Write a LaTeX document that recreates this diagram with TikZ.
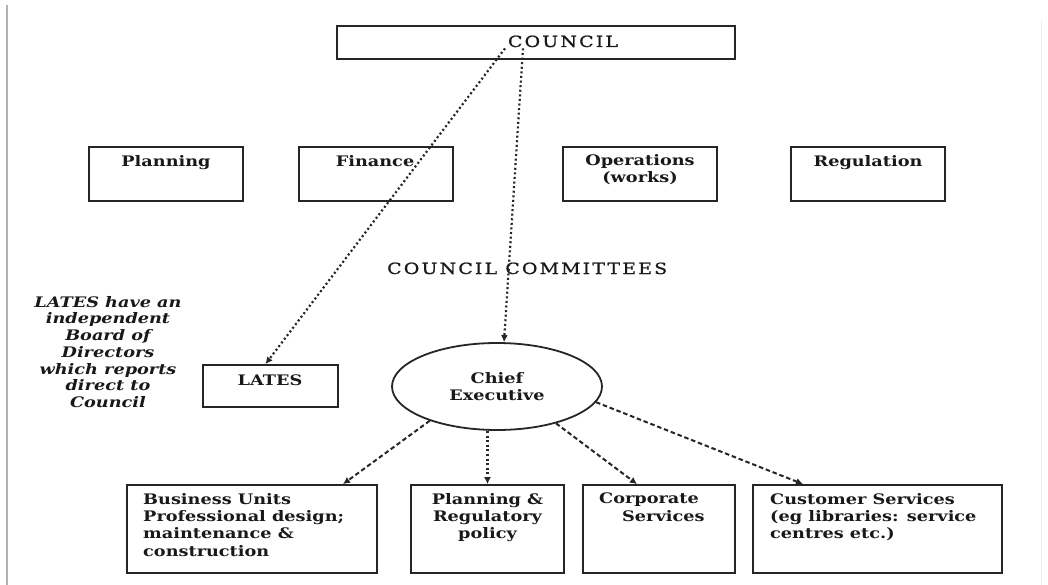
\documentclass[tikz,border=0pt]{standalone}
\usepackage{fontspec}
\usetikzlibrary{shapes.geometric,arrows.meta}
\setmainfont{DejaVu Serif}
\newfontfamily\bkfont[FakeStretch=1.22]{DejaVu Serif}
\newfontfamily\capfont[FakeStretch=1.22,LetterSpace=14,FakeBold=0.8]{DejaVu Serif}
\begin{document}
\begin{tikzpicture}[x=1pt,y=-1pt,
  box/.style={draw=black!85, line width=1.8pt, rectangle, inner sep=0pt},
  lbl/.style={font=\bkfont\bfseries\fontsize{14.5}{17.3}\selectfont, inner sep=0pt, text=black!90},
  note/.style={font=\bkfont\bfseries\itshape\fontsize{14.5}{16.7}\selectfont, inner sep=0pt, text=black!90, align=center},
  captxt/.style={font=\capfont\fontsize{15.5}{17}\selectfont, inner sep=1pt, text=black!90},
  dots/.style={draw=black!85, line width=2.2pt, dash pattern=on 2pt off 2.6pt, -{Latex[length=7pt,width=7pt]}},
  dsh/.style={draw=black!85, line width=2pt, dash pattern=on 4.5pt off 2.8pt, -{Latex[length=7pt,width=7pt]}}
]
\useasboundingbox (0,0) rectangle (1048,585);
\fill[white] (0,0) rectangle (1048,585);
% page edge lines
\draw[gray!60, line width=1.6pt] (7,5) -- (7,585);
\draw[gray!15, line width=1pt] (1041,20) -- (1041,585);

% Council
\node[box, minimum width=398pt, minimum height=33pt] (council) at (536,42.5) {};
\node[captxt, anchor=base] (counciltxt) at (563,47) {COUNCIL};

% top row
\node[box, minimum width=154pt, minimum height=54pt] (planning) at (166,174) {};
\node[box, minimum width=154pt, minimum height=54pt] (finance) at (376,174) {};
\node[box, minimum width=154pt, minimum height=54pt] (ops) at (640,174) {};
\node[box, minimum width=154pt, minimum height=54pt] (reg) at (868,174) {};
\node[lbl, anchor=base] (planningtxt) at (166,167) {Planning};
\node[lbl, anchor=base] (financetxt) at (375,167) {Finance};
\node[lbl, anchor=north, align=center] (opstxt) at (640,154) {Operations\\(works)};
\node[lbl, anchor=base] (regtxt) at (868,167) {Regulation};

\node[captxt, anchor=base west] (committees) at (386,274) {COUNCIL COMMITTEES};

% note
\node[note, anchor=north] (lnote) at (108,296) {LATES have an\\independent\\Board of\\Directors\\which reports\\direct to\\Council};

% LATES and Chief
\node[box, minimum width=135pt, minimum height=42pt] (lates) at (270.5,386) {};
\node[lbl, anchor=base] (latestxt) at (270,385) {LATES};
\node[draw=black!85, line width=1.8pt, ellipse, minimum width=210pt, minimum height=87pt, inner sep=0pt,
      lbl, align=center] (chief) at (497,386.5) {Chief\\Executive};

% bottom row
\node[box, minimum width=250pt, minimum height=88pt] (bu) at (252,529) {};
\node[box, minimum width=153pt, minimum height=88pt] (pr) at (487.5,529) {};
\node[box, minimum width=152pt, minimum height=88pt] (corp) at (659,529) {};
\node[box, minimum width=249pt, minimum height=88pt] (cust) at (877.5,529) {};
\node[lbl, anchor=north west, align=left] (butxt) at (143,493) {Business Units\\Professional design;\\maintenance \&\\construction};
\node[lbl, anchor=north, align=center] (prtxt) at (487.5,493) {Planning \&\\Regulatory\\policy};
\node[lbl, anchor=north west, align=left] (corptxt) at (599,493) {Corporate\\\hspace*{23pt}Services};
\node[lbl, anchor=north west, align=left] (custtxt) at (770,493) {Customer Services\\(eg libraries: service\\centres etc.)};

% connectors
\draw[dots] ([xshift=-58pt]counciltxt.south) -- ([xshift=-5pt]lates.north);
\draw[dots] ([xshift=-40pt]counciltxt.south) -- ([xshift=7pt]chief.north);
\draw[dsh] (chief.207) -- ([xshift=91pt]bu.north);
\draw[dots] (pr.north |- chief.south) -- (pr.north);
\draw[dsh] (chief.328) -- ([xshift=-22pt]corp.north);
\draw[dsh] (chief.351) -- ([xshift=-74.5pt]cust.north);
\end{tikzpicture}
\end{document}
